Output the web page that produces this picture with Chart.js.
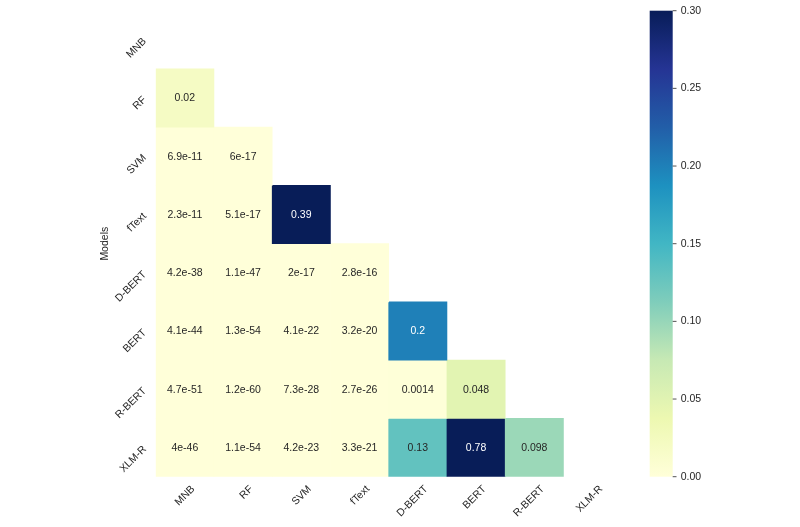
<!DOCTYPE html>
<html><head><meta charset="utf-8">
<script src="https://cdn.jsdelivr.net/npm/chart.js@4.4.1/dist/chart.umd.min.js"></script>
<style>html,body{margin:0;padding:0;background:#fff}#wrap{width:800px;height:527px;position:relative}</style>
</head><body><div id="wrap"><canvas id="c"></canvas></div>
<script>
// ---- data ----
const models = ["MNB", "RF", "SVM", "fText", "D-BERT", "BERT", "R-BERT", "XLM-R"];
const rowMNB = [];
const rowRF = [0.02];
const rowSVM = [6.9e-11, 6e-17];
const rowFText = [2.3e-11, 5.1e-17, 0.39];
const rowDBERT = [4.2e-38, 1.1e-47, 2e-17, 2.8e-16];
const rowBERT = [4.1e-44, 1.3e-54, 4.1e-22, 3.2e-20, 0.2];
const rowRBERT = [4.7e-51, 1.2e-60, 7.3e-28, 2.7e-26, 0.0014, 0.048];
const rowXLMR = [4e-46, 1.1e-54, 4.2e-23, 3.3e-21, 0.13, 0.78, 0.098];
const colorbarTicks = [0, 0.05, 0.1, 0.15, 0.2, 0.25, 0.3];
const vmin = 0, vmax = 0.3;
const yAxisTitle = "Models";

const rows = [rowMNB, rowRF, rowSVM, rowFText, rowDBERT, rowBERT, rowRBERT, rowXLMR];

// ---- colormap (YlGnBu) ----
const stops = [[255,255,217],[237,248,177],[199,233,180],[127,205,187],[65,182,196],[29,145,192],[34,94,168],[37,52,148],[8,29,88]];
function cmapRGB(v) {
  let t = (v - vmin) / (vmax - vmin);
  t = Math.max(0, Math.min(1, t));
  const p = t * (stops.length - 1);
  const i = Math.min(Math.floor(p), stops.length - 2);
  const f = p - i;
  return stops[i].map((a, k) => Math.round(a + (stops[i + 1][k] - a) * f));
}
const rgbStr = (c) => `rgb(${c[0]},${c[1]},${c[2]})`;
function lin(c) { c /= 255; return c <= 0.03928 ? c / 12.92 : Math.pow((c + 0.055) / 1.055, 2.4); }
function textColor(v) {
  const c = cmapRGB(v);
  const lum = 0.2126 * lin(c[0]) + 0.7152 * lin(c[1]) + 0.0722 * lin(c[2]);
  return lum > 0.408 ? '#262626' : '#ffffff';
}
function fmt(v) {
  let s = v.toPrecision(2);
  if (s.includes('e')) {
    let [m, e] = s.split('e');
    if (m.includes('.')) m = m.replace(/0+$/, '').replace(/\.$/, '');
    const sign = e[0] === '-' ? '-' : '+';
    let d = e.replace(/^[+-]/, '');
    if (d.length < 2) d = '0' + d;
    return m + 'e' + sign + d;
  }
  if (s.includes('.')) s = s.replace(/0+$/, '').replace(/\.$/, '');
  return s;
}

const FONT = {family: 'Arial, "Liberation Sans", Helvetica, sans-serif', size: 10.5};
const TXT = '#262626';

const datasets = rows.map((vals, r) => ({
  data: models.map((_, c) => c < vals.length ? [r, r + 1] : null),
  backgroundColor: models.map((_, c) => c < vals.length ? rgbStr(cmapRGB(vals[c])) : 'rgba(0,0,0,0)'),
  borderWidth: 0,
  grouped: false,
  barPercentage: 1,
  categoryPercentage: 1,
  xAxisID: 'x',
  yAxisID: 'y'
}));

const heatPlugin = {
  id: 'heat',
  afterDatasetsDraw(chart) {
    const {ctx} = chart;
    const xs = chart.scales.x, ys = chart.scales.y, cb = chart.scales.cb;
    ctx.save();
    ctx.font = `${FONT.size}px ${FONT.family}`;
    ctx.textAlign = 'center';
    ctx.textBaseline = 'middle';
    rows.forEach((vals, r) => vals.forEach((v, c) => {
      ctx.fillStyle = textColor(v);
      ctx.fillText(fmt(v), xs.getPixelForValue(c), ys.getPixelForValue(r + 0.5) + 0.5);
    }));
    // colorbar
    const top = cb.getPixelForValue(vmax), bot = cb.getPixelForValue(vmin);
    const x0 = chart.chartArea.right + 28, w = 23;
    const g = ctx.createLinearGradient(0, bot, 0, top);
    stops.forEach((s, i) => g.addColorStop(i / (stops.length - 1), rgbStr(s)));
    ctx.fillStyle = g;
    ctx.fillRect(x0, top, w, bot - top);
    ctx.strokeStyle = TXT;
    ctx.lineWidth = 0.8;
    cb.ticks.forEach(t => {
      const ty = cb.getPixelForValue(t.value);
      ctx.beginPath(); ctx.moveTo(x0 + w, ty); ctx.lineTo(x0 + w + 3.8, ty); ctx.stroke();
    });
    ctx.restore();
  }
};

new Chart(document.getElementById('c'), {
  type: 'bar',
  data: {labels: models, datasets},
  plugins: [heatPlugin],
  options: {
    responsive: true,
    maintainAspectRatio: false,
    animation: false,
    layout: {padding: {left: 94.8, top: 10.7, right: 0, bottom: 0}},
    plugins: {legend: {display: false}, tooltip: {enabled: false}},
    scales: {
      x: {
        type: 'category',
        offset: true,
        grid: {display: false, drawTicks: false},
        border: {display: false},
        ticks: {autoSkip: false, minRotation: 45, maxRotation: 45, padding: 6.3, labelOffset: 8.4, color: TXT, font: FONT},
        afterFit: (s) => { s.height = 50.3; }
      },
      y: {
        type: 'linear',
        min: 0, max: models.length,
        reverse: true,
        afterBuildTicks: (s) => { s.ticks = models.map((_, i) => ({value: i + 0.5})); },
        ticks: {autoSkip: false, minRotation: 45, maxRotation: 45, padding: 0, color: TXT, font: FONT,
                callback: (v) => models[Math.floor(v)]},
        grid: {display: true, drawOnChartArea: false, drawTicks: true, tickLength: 11, color: 'rgba(0,0,0,0)'},
        border: {display: false},
        title: {display: true, text: yAxisTitle, color: TXT, font: FONT, padding: {top: 4, bottom: 0}},
        afterFit: (s) => { s.width = 60.9; }
      },
      cb: {
        type: 'linear',
        position: 'right',
        min: vmin, max: vmax,
        afterBuildTicks: (s) => { s.ticks = colorbarTicks.map(v => ({value: v})); },
        ticks: {padding: 0, color: TXT, font: FONT, callback: (v) => Number(v).toFixed(2)},
        grid: {display: true, drawOnChartArea: false, drawTicks: true, tickLength: 59, color: 'rgba(0,0,0,0)'},
        border: {display: false},
        afterFit: (s) => { s.width = 178.3; }
      }
    }
  }
});
</script>
</body></html>
